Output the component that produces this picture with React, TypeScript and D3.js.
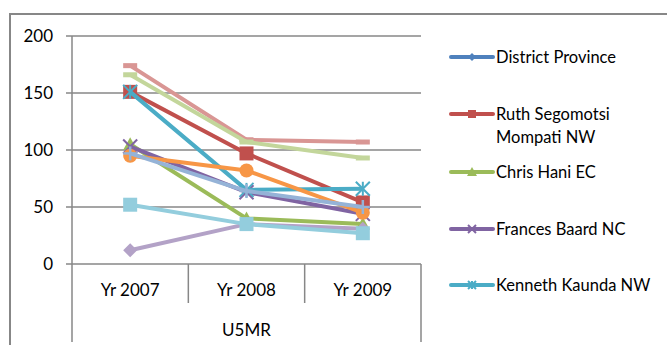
import React from "react";
import * as d3 from "d3";

// Categories and axis ticks
const categories = ["Yr 2007", "Yr 2008", "Yr 2009"];
const groupLabel = "U5MR";
const yTicks = [0, 50, 100, 150, 200];

// Under-five mortality per district, one array per series
const districtProvince: (number | null)[] = [null, null, null];
const ruthSegomotsi = [151, 97, 54];
const chrisHani = [105, 40, 35];
const francesBaard = [103, 63, 44];
const kennethKaunda = [151, 65, 66];
const series6 = [95, 82, 45];
const series7 = [97, 64, 50];
const series8 = [174, 109, 107];
const series9 = [166, 107, 93];
const series10 = [12, 35, 31];
const series11 = [52, 35, 27];

type Marker = "diamond" | "square" | "triangle" | "x" | "star" | "circle" | "plus" | "dash";

interface Series {
  name: string[];
  values: (number | null)[];
  color: string;
  marker: Marker;
  legend: boolean;
}

const seriesList: Series[] = [
  { name: ["District Province"], values: districtProvince, color: "#4F81BD", marker: "diamond", legend: true },
  { name: ["Ruth Segomotsi", "Mompati NW"], values: ruthSegomotsi, color: "#C0504D", marker: "square", legend: true },
  { name: ["Chris Hani EC"], values: chrisHani, color: "#9BBB59", marker: "triangle", legend: true },
  { name: ["Frances Baard NC"], values: francesBaard, color: "#8064A2", marker: "x", legend: true },
  { name: ["Kenneth Kaunda NW"], values: kennethKaunda, color: "#4BACC6", marker: "star", legend: true },
  { name: ["Series 6"], values: series6, color: "#F79646", marker: "circle", legend: false },
  { name: ["Series 7"], values: series7, color: "#95B3D7", marker: "plus", legend: false },
  { name: ["Series 8"], values: series8, color: "#D99694", marker: "dash", legend: false },
  { name: ["Series 9"], values: series9, color: "#C3D69B", marker: "dash", legend: false },
  { name: ["Series 10"], values: series10, color: "#B3A2C7", marker: "diamond", legend: false },
  { name: ["Series 11"], values: series11, color: "#93CDDD", marker: "square", legend: false },
];

const W = 667;
const H = 345;
const plot = { left: 72, right: 421, top: 36, bottom: 264 };
const axisColor = "#878787";
const font = "Lato, 'Open Sans', sans-serif";
const fontSize = 16.5;

function MarkerShape({ type, cx, cy, s, color }: { type: Marker; cx: number; cy: number; s: number; color: string }) {
  const h = s / 2;
  switch (type) {
    case "diamond":
      return <polygon points={`${cx},${cy - h} ${cx + h},${cy} ${cx},${cy + h} ${cx - h},${cy}`} fill={color} />;
    case "square":
      return <rect x={cx - h} y={cy - h} width={s} height={s} fill={color} />;
    case "triangle":
      return <polygon points={`${cx},${cy - h} ${cx + h},${cy + h * 0.8} ${cx - h},${cy + h * 0.8}`} fill={color} />;
    case "circle":
      return <circle cx={cx} cy={cy} r={h} fill={color} />;
    case "x":
      return (
        <g stroke={color} strokeWidth={2}>
          <line x1={cx - h} y1={cy - h} x2={cx + h} y2={cy + h} />
          <line x1={cx - h} y1={cy + h} x2={cx + h} y2={cy - h} />
        </g>
      );
    case "star":
      return (
        <g stroke={color} strokeWidth={2}>
          <line x1={cx - h} y1={cy - h} x2={cx + h} y2={cy + h} />
          <line x1={cx - h} y1={cy + h} x2={cx + h} y2={cy - h} />
          <line x1={cx} y1={cy - h} x2={cx} y2={cy + h} />
        </g>
      );
    case "plus":
      return (
        <g stroke={color} strokeWidth={2.5}>
          <line x1={cx - h} y1={cy} x2={cx + h} y2={cy} />
          <line x1={cx} y1={cy - h} x2={cx} y2={cy + h} />
        </g>
      );
    case "dash":
      return <rect x={cx - h} y={cy - 2.5} width={s} height={5} fill={color} />;
  }
}

export default function App() {
  const x = d3.scaleBand<string>().domain(categories).range([plot.left, plot.right]).padding(0);
  const y = d3.scaleLinear().domain([0, 200]).range([plot.bottom, plot.top]);
  const cx = (c: string) => (x(c) ?? 0) + x.bandwidth() / 2;

  const line = d3
    .line<{ c: string; v: number | null }>()
    .defined((d) => d.v != null)
    .x((d) => cx(d.c))
    .y((d) => y(d.v as number));

  const legendRows = [57, 114, 172, 229, 285];

  return (
    <svg width={W} height={H} style={{ position: "fixed", left: 0, top: 0, background: "#fff" }} fontFamily={font}>
      <rect width={W} height={H} fill="#fff" />
      {/* chart frame */}
      <path d={`M10,${H} V14 H${W}`} fill="none" stroke={axisColor} strokeWidth={2} />

      {/* gridlines and y ticks */}
      {yTicks.map((t) => (
        <g key={t}>
          <line x1={plot.left - 6} x2={plot.right} y1={y(t)} y2={y(t)} stroke={axisColor} strokeWidth={1.5} />
          <text x={53} y={y(t)} dy="0.36em" textAnchor="end" fontSize={fontSize + 0.5} fill="#000">
            {t}
          </text>
        </g>
      ))}

      {/* value axis */}
      <line x1={plot.left} x2={plot.left} y1={plot.top} y2={342} stroke={axisColor} strokeWidth={1.5} />
      {/* category separators */}
      {categories.slice(1).map((c) => (
        <line key={c} x1={x(c)} x2={x(c)} y1={plot.bottom} y2={303} stroke={axisColor} strokeWidth={1.5} />
      ))}
      <line x1={plot.right} x2={plot.right} y1={plot.bottom} y2={342} stroke={axisColor} strokeWidth={1.5} />

      {/* category labels */}
      {categories.map((c) => (
        <text key={c} x={cx(c)} y={290} dy="0.36em" textAnchor="middle" fontSize={fontSize + 0.5} fill="#000">
          {c}
        </text>
      ))}
      <text x={(plot.left + plot.right) / 2} y={330} dy="0.36em" textAnchor="middle" fontSize={fontSize + 0.5} fill="#000">
        {groupLabel}
      </text>

      {/* series */}
      {seriesList.map((s, i) => {
        const pts = categories.map((c, j) => ({ c, v: s.values[j] }));
        return (
          <g key={i}>
            <path d={line(pts) ?? ""} fill="none" stroke={s.color} strokeWidth={4} strokeLinejoin="round" />
            {pts
              .filter((p) => p.v != null)
              .map((p) => (
                <MarkerShape key={p.c} type={s.marker} cx={cx(p.c)} cy={y(p.v as number)} s={14} color={s.color} />
              ))}
          </g>
        );
      })}

      {/* legend */}
      {seriesList
        .filter((s) => s.legend)
        .map((s, i) => {
          const ly = legendRows[i];
          return (
            <g key={i}>
              <line x1={451} x2={493} y1={ly} y2={ly} stroke={s.color} strokeWidth={4} strokeLinecap="round" />
              <MarkerShape type={s.marker} cx={472} cy={ly} s={s.marker === "triangle" ? 10 : 8} color={s.color} />
              {s.name.map((n, k) => (
                <text key={k} x={496} y={ly + k * 23} dy="0.36em" fontSize={fontSize} fill="#000">
                  {n}
                </text>
              ))}
            </g>
          );
        })}
    </svg>
  );
}
